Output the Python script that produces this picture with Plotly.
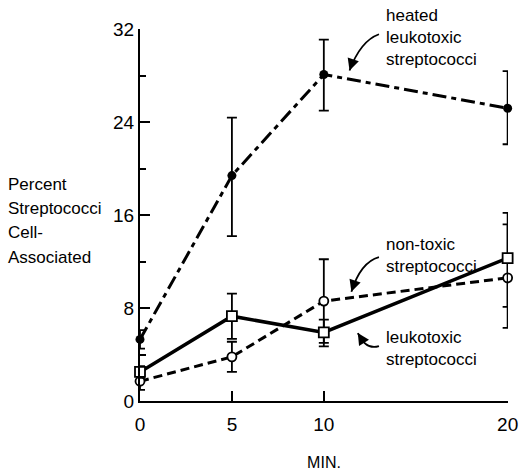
import plotly.graph_objects as go

# ---- data ----
minutes = [0, 5, 10, 20]

heated = [5.3, 19.4, 28.1, 25.2]
heated_err_up = [0.8, 5.0, 3.0, 3.2]
heated_err_dn = [0.8, 5.2, 3.1, 3.1]

leuko = [2.5, 7.3, 5.9, 12.3]
leuko_err_up = [0.5, 1.95, 1.1, 3.9]
leuko_err_dn = [0.5, 1.95, 1.2, 4.2]

nontoxic = [1.7, 3.8, 8.6, 10.6]
nontoxic_err_up = [0.75, 1.3, 3.6, 4.6]
nontoxic_err_dn = [0.75, 1.3, 3.6, 4.3]

x_ticks = [0, 5, 10, 20]
y_ticks = [0, 8, 16, 24, 32]

y_title_lines = ["Percent", "Streptococci", "Cell-", "Associated"]

FONT = "Liberation Sans, Arial, sans-serif"
BLACK = "black"

fig = go.Figure()

def err(up, dn):
    return dict(type="data", symmetric=False, array=up, arrayminus=dn,
                color=BLACK, thickness=1.8, width=5)

fig.add_trace(go.Scatter(
    x=minutes, y=heated, mode="lines+markers", name="heated leukotoxic streptococci",
    line=dict(color=BLACK, width=3, dash="14px,5px,5px,5px"),
    marker=dict(symbol="circle", size=9, color=BLACK),
    error_y=err(heated_err_up, heated_err_dn), cliponaxis=False))

fig.add_trace(go.Scatter(
    x=minutes, y=nontoxic, mode="lines+markers", name="non-toxic streptococci",
    line=dict(color=BLACK, width=3, dash="9px,5px"),
    marker=dict(symbol="circle", size=9, color="white", line=dict(color=BLACK, width=1.8)),
    error_y=err(nontoxic_err_up, nontoxic_err_dn), cliponaxis=False))

fig.add_trace(go.Scatter(
    x=minutes, y=leuko, mode="lines+markers", name="leukotoxic streptococci",
    line=dict(color=BLACK, width=3.5),
    marker=dict(symbol="square", size=10, color="white", line=dict(color=BLACK, width=1.8)),
    error_y=err(leuko_err_up, leuko_err_dn), cliponaxis=False))

# ---- labels with curved arrows ----
labels = [
    # text, text x, text y, curve start, control, end, head offset (px)
    ("heated<br>leukotoxic<br>streptococci", 13.25, 31.25,
     (13.0, 31.57), (12.0, 31.0), (11.4, 28.45), (3, -9)),
    ("non-toxic<br>streptococci", 13.25, 12.55,
     (13.0, 12.39), (12.0, 11.95), (11.5, 9.4), (3, -9)),
    ("leukotoxic<br>streptococci", 13.25, 4.55,
     (13.0, 4.73), (12.3, 4.35), (11.85, 5.85), (5, 8)),
]
for text, tx, ty, s, c, e, hd in labels:
    fig.add_annotation(x=tx, y=ty, xref="x", yref="y", text=text, showarrow=False,
                       xanchor="left", yanchor="middle", align="left",
                       font=dict(family=FONT, size=17, color=BLACK))
    fig.add_shape(type="path", xref="x", yref="y",
                  path=f"M {s[0]},{s[1]} Q {c[0]},{c[1]} {e[0]},{e[1]}",
                  line=dict(color=BLACK, width=1.8))
    fig.add_annotation(x=e[0], y=e[1], xref="x", yref="y", text="", showarrow=True,
                       ax=hd[0], ay=hd[1], arrowhead=2, arrowsize=1.3, arrowwidth=1.8,
                       arrowcolor=BLACK)

# y-axis title: left-aligned block, one annotation per line for the reference's leading
for i, line in enumerate(y_title_lines):
    fig.add_annotation(x=-0.365, y=0.583 - i * 0.0655, xref="paper", yref="paper",
                       text=line, showarrow=False, xanchor="left", yanchor="middle",
                       align="left", font=dict(family=FONT, size=17, color=BLACK))

fig.update_layout(
    width=520, height=471,
    margin=dict(l=140, r=12, t=29, b=70, autoexpand=False),
    paper_bgcolor="white", plot_bgcolor="white",
    showlegend=False,
    font=dict(family=FONT, size=19, color=BLACK),
    xaxis=dict(range=[0, 20.02], tickvals=x_ticks, ticks="inside", ticklen=10,
               tickwidth=2, tickcolor=BLACK, showline=True, linewidth=2,
               linecolor=BLACK, showgrid=False, zeroline=False, automargin=False,
               ticklabelstandoff=5, ticklabeloverflow="allow",
               title=dict(text="MIN.", font=dict(family=FONT, size=16), standoff=24)),
    yaxis=dict(range=[0, 32.02], tickvals=y_ticks, ticks="inside", ticklen=10,
               tickwidth=2, tickcolor=BLACK, showline=True, linewidth=2,
               linecolor=BLACK, showgrid=False, zeroline=False, automargin=False,
               ticklabelstandoff=0,
               minor=dict(ticks="inside", ticklen=6, tickwidth=2, tickcolor=BLACK, dtick=4,
                          tick0=0, showgrid=False)),
)

fig.write_html("out.html", config={"displayModeBar": False},
               post_script="document.body.style.margin='0';")
